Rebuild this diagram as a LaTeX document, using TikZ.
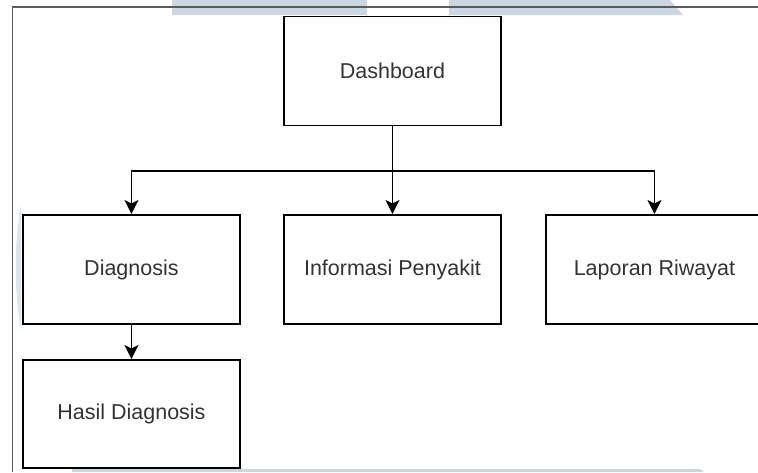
\documentclass[tikz,border=0pt]{standalone}
\usepackage{fontspec}
\setmainfont{Liberation Sans}
\usetikzlibrary{arrows.meta}
\definecolor{band}{HTML}{CBD6E2}
\definecolor{bandlight}{HTML}{DCE4EE}
\definecolor{txt}{HTML}{333333}
\definecolor{frame}{HTML}{5A5A5A}
\begin{document}
\begin{tikzpicture}[x=1pt,y=-1pt,
  menubox/.style={draw=black,line width=1.9pt,fill=white,minimum width=217pt,
    minimum height=109pt,inner sep=0pt,font=\fontsize{21.5}{24}\selectfont,
    text=txt,anchor=north west},
  link/.style={draw=black,line width=1.8pt,
    -{Stealth[length=14pt,width=14pt,inset=3.5pt]}}]
  \useasboundingbox (0,0) rectangle (758,472);
  \fill[white] (0,0) rectangle (758,472);
  % light background bands
  \fill[band] (172,0) -- (367,0) -- (367,15) -- (172,15) -- cycle;
  \fill[band] (449,0) -- (670,0) -- (683,15) -- (449,15) -- cycle;
  \fill[band] (72,469) -- (700,469) -- (704,472) -- (72,472) -- cycle;
  \fill[bandlight] (21,205) .. controls (14,245) and (14,290) .. (21,330) -- cycle;
  % outer frame
  \draw[frame,line width=1.2pt] (12.5,472) -- (12.5,7) -- (758,7);
  % menu boxes
  \node[menubox] (dash) at (283,15.5) {Dashboard};
  \node[menubox] (diag) at (22,214) {Diagnosis};
  \node[menubox] (info) at (283,214) {Informasi Penyakit};
  \node[menubox] (lap)  at (545,214) {Laporan Riwayat};
  \node[menubox,minimum height=108pt] (hasil) at (22,359) {Hasil Diagnosis};
  % connectors
  \coordinate (fork) at ([yshift=-44.5pt]dash.south);
  \draw[link] (dash.south) -- (info.north);
  \draw[link] (dash.south) -- (fork) -| (diag.north);
  \draw[link] (dash.south) -- (fork) -| (lap.north);
  \draw[link] (diag.south) -- (hasil.north);
\end{tikzpicture}
\end{document}
